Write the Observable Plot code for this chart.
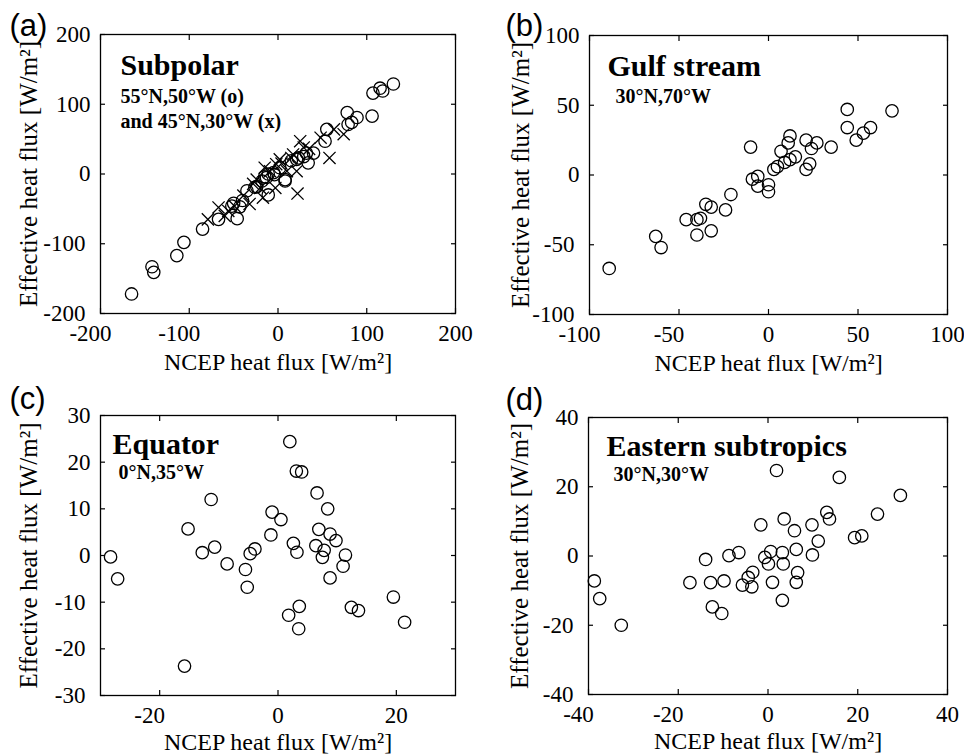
<!DOCTYPE html>
<html><head><meta charset="utf-8">
<script src="https://cdn.jsdelivr.net/npm/d3@7"></script>
<script src="https://cdn.jsdelivr.net/npm/@observablehq/plot@0.6"></script>
<style>
body{margin:0;background:#fff;}
#fig{position:relative;width:964px;height:755px;overflow:hidden;background:#fff;}
#fig svg{position:absolute;overflow:visible;}
</style></head><body><div id="fig"></div>
<script>
// ---- data (NCEP heat flux x, effective heat flux y), W/m² ----
const subpolarCircles = [[-165,-172],[-142,-133],[-140,-141],[-114,-117],[-106,-98],[-85,-79],[-67,-65],[-46,-64],[-52,-46],[-50,-42],[-43,-47],[-35,-24],[-26,-19],[-11,-30],[-13,-5],[8,-10],[-5,2],[2,9],[23,23],[29,25],[34,16],[40,30],[32,30],[53,47],[55,64],[78,88],[79,71],[89,81],[83,74],[106,83],[107,116],[115,123],[118,119],[130,129],[-18,-10],[-11,0],[15,19],[-24,-18],[-15,-4],[21,21],[8,-8],[-4,-1],[-40,-38]];
const subpolarCrosses = [[-79,-65],[-67,-48],[-56,-53],[-39,-31],[-32,-43],[-24,-8],[-17,-34],[-15,9],[-3,-20],[2,21],[-2,14],[10,4],[17,28],[21,4],[22,-28],[25,47],[29,38],[48,52],[58,23],[63,64],[74,57],[15,23],[-9,4],[-49,-46],[-28,-14],[-60,-60],[4,15],[-20,-20],[35,36]];
const gulfStream = [[-89,-67],[-63,-44],[-60,-52],[-46,-32],[-40,-32],[-38,-31],[-40,-43],[-35,-21],[-32,-23],[-32,-40],[-24,-25],[-21,-14],[-10,20],[-9,-3],[-6,-1],[-6,-8],[0,-7],[0,-12],[3,4],[5,6],[7,17],[9,9],[12,11],[11,23],[12,28],[15,13],[21,25],[21,4],[23,8],[24,19],[27,23],[35,20],[44,34],[44,47],[49,25],[53,30],[57,34],[69,46]];
const equator = [[-28.3,-0.3],[-27.1,-5],[-15.8,-23.7],[-15.2,5.7],[-11.3,12],[-12.8,0.6],[-10.7,1.8],[-8.6,-1.8],[-5.5,-3],[-5.2,-6.8],[-4.7,0.4],[-3.9,1.4],[-1.2,4.4],[-1,9.3],[0.5,7.7],[2,24.4],[3.1,18.1],[4,17.9],[1.8,-12.8],[2.6,2.6],[3.2,0.7],[3.6,-10.9],[3.5,-15.7],[6.6,13.4],[8.4,10],[6.9,5.6],[6.4,2.1],[7.8,1.1],[7.5,-0.4],[8.8,4.6],[9.8,3.2],[8.8,-4.8],[11.4,0.1],[11,-2.3],[12.4,-11.1],[13.6,-11.8],[19.5,-8.9],[21.4,-14.3]];
const easternSubtropics = [[-38.7,-7.2],[-37.5,-12.3],[-32.7,-20],[-17.4,-7.7],[-13.9,-1],[-12.8,-7.7],[-12.4,-14.7],[-10.3,-16.6],[-9.8,-7.2],[-8.7,0.1],[-6.5,1],[-5.7,-8.4],[-4.4,-6.2],[-3.4,-4.7],[-3.6,-8.9],[-1.6,9],[-0.7,-0.4],[0.1,-2.3],[0.6,1.3],[1,-7.6],[1.9,24.7],[3.2,1],[3.4,-2.3],[3.6,10.7],[3.2,-12.8],[5.9,7.3],[6.3,1.9],[6.6,-4.8],[6.3,-7.6],[9.8,9],[9.9,0.3],[11.2,4.3],[13.1,12.6],[13.7,10.7],[15.9,22.7],[19.3,5.3],[20.9,5.8],[24.4,12.1],[29.5,17.5]];

const panelLetters = ["(a)","(b)","(c)","(d)"];
const panelTitles = ["Subpolar","Gulf stream","Equator","Eastern subtropics"];
const panelSubtitles = [["55°N,50°W (o)","and 45°N,30°W (x)"],["30°N,70°W"],["0°N,35°W"],["30°N,30°W"]];
const xDomains = [[-200,200],[-100,100],[-30,30],[-40,40]];
const yDomains = [[-200,200],[-100,100],[-30,30],[-40,40]];
const xTickLabels = [[-200,-100,0,100,200],[-100,-50,0,50,100],[-20,0,20],[-40,-20,0,20,40]];
const yTickLabels = [[-200,-100,0,100,200],[-100,-50,0,50,100],[-30,-20,-10,0,10,20,30],[-40,-20,0,20,40]];
const xLabel = "NCEP heat flux [W/m²]";
const yLabel = "Effective heat flux [W/m²]";

// ---- layout ----
const layout = [
  {left:0, top:0, width:482, height:378, mt:34, mb:65, ml:100, mr:27, ylo:81, xlo:56, letter:[-91,1], title:[20,40], sub:[20,68,25]},
  {left:482, top:0, width:482, height:378, mt:35, mb:64, ml:107, mr:17, ylo:78, xlo:56, letter:[-84,0], title:[18,40], sub:[26,67,25]},
  {left:0, top:378, width:482, height:377, mt:37, mb:60, ml:100, mr:27, ylo:81, xlo:54, letter:[-91,-7], title:[12,38], sub:[18,63,25]},
  {left:482, top:378, width:482, height:377, mt:39, mb:61, ml:106, mr:17, ylo:78, xlo:54, letter:[-83,-8], title:[18,38], sub:[25,63,25]}
];
const seriesPerPanel = [
  [{data:subpolarCircles, symbol:"circle"},{data:subpolarCrosses, symbol:"times"}],
  [{data:gulfStream, symbol:"circle"}],
  [{data:equator, symbol:"circle"}],
  [{data:easternSubtropics, symbol:"circle"}]
];

const serif = "Liberation Serif, Times New Roman, serif";
const fmt = d => String(d);
const fig = document.getElementById("fig");

layout.forEach((L, i) => {
  const xs = xTickLabels[i], ys = yTickLabels[i];
  const tickOpts = {tickSize:-5, fill:"none", label:null, strokeWidth:1.2};
  const xText = {anchor:"bottom", tickSize:0, tickPadding:11, tickFormat:fmt, fontFamily:serif, fontSize:23, label:null};
  const yText = {anchor:"left", tickSize:0, tickPadding:10, tickFormat:fmt, fontFamily:serif, fontSize:23, label:null};
  const marks = [
    Plot.frame({stroke:"black", strokeWidth:1.3}),
    // inward tick marks on all four sides
    Plot.axisX(xs, {anchor:"bottom", ...tickOpts}),
    Plot.axisX(xs, {anchor:"top", ...tickOpts}),
    Plot.axisY(ys, {anchor:"left", ...tickOpts}),
    Plot.axisY(ys, {anchor:"right", ...tickOpts}),
    // tick labels (negative labels sit slightly left, as in the original)
    Plot.axisX(xs.filter(v => v >= 0), xText),
    Plot.axisX(xs.filter(v => v < 0), {...xText, dx:-10}),
    Plot.axisY(ys.filter(v => v >= 0), yText),
    Plot.axisY(ys.filter(v => v < 0), {...yText, dx:-5}),
    // axis titles
    Plot.axisX([], {anchor:"bottom", tickSize:0, fontFamily:serif, fontSize:24,
      label:xLabel, labelAnchor:"center", labelOffset:L.xlo, labelArrow:false}),
    Plot.axisY([], {anchor:"left", tickSize:0, fontFamily:serif, fontSize:25,
      label:yLabel, labelAnchor:"center", labelOffset:L.ylo, labelArrow:false})
  ];
  seriesPerPanel[i].forEach(s => {
    marks.push(Plot.dot(s.data, {x: d => d[0], y: d => d[1], symbol: s.symbol,
      r: s.symbol === "circle" ? 6.2 : 5.6, stroke:"black", strokeWidth:1.3, fill:"none"}));
  });
  marks.push(Plot.text([panelLetters[i]], {frameAnchor:"top-left", textAnchor:"start", lineAnchor:"bottom",
    dx:L.letter[0], dy:L.letter[1], fontFamily:"Liberation Sans, Arial, sans-serif", fontSize:31}));
  marks.push(Plot.text([panelTitles[i]], {frameAnchor:"top-left", textAnchor:"start", lineAnchor:"bottom",
    dx:L.title[0], dy:L.title[1], fontFamily:serif, fontSize:30, fontWeight:"bold"}));
  panelSubtitles[i].forEach((s, j) => {
    marks.push(Plot.text([s], {frameAnchor:"top-left", textAnchor:"start", lineAnchor:"bottom",
      dx:L.sub[0], dy:L.sub[1] + j * L.sub[2], fontFamily:serif, fontSize:20, fontWeight:"bold"}));
  });
  const svg = Plot.plot({
    width:L.width, height:L.height,
    marginTop:L.mt, marginBottom:L.mb, marginLeft:L.ml, marginRight:L.mr,
    x:{domain:xDomains[i]}, y:{domain:yDomains[i]},
    style:{fontFamily:serif, fontSize:"23px", color:"black", background:"transparent", overflow:"visible"},
    marks
  });
  svg.style.left = L.left + "px";
  svg.style.top = L.top + "px";
  fig.appendChild(svg);
});
</script></body></html>
